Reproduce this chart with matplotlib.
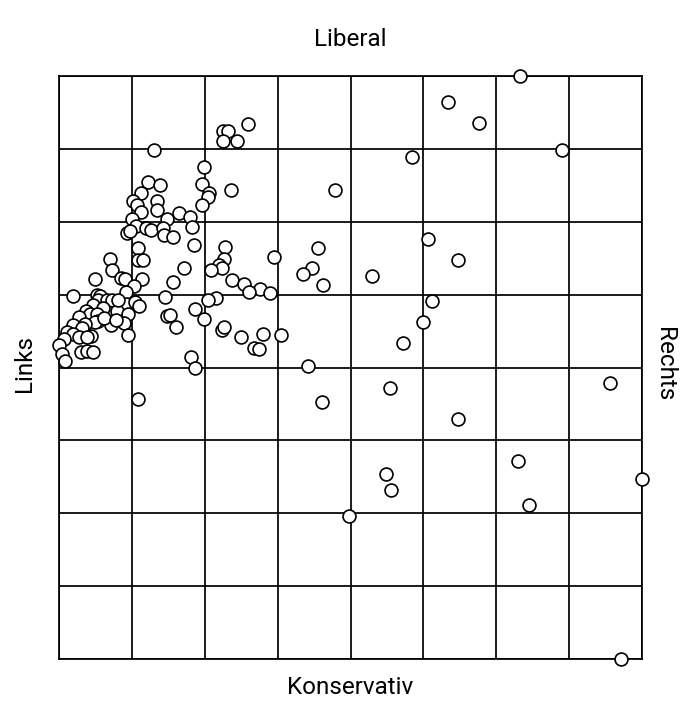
import numpy as np
import matplotlib
matplotlib.use("Agg")
import matplotlib.pyplot as plt

# %% data: position of each point on the compass (grid units, 0..8)
x_pos = [
    6.33, 5.34, 5.76, 6.90, 4.84, 2.59, 2.25, 2.32, 2.25, 2.44, 1.30,
    1.99, 1.96, 2.06, 2.04, 1.96, 2.36, 3.79, 1.22, 1.39, 1.13, 1.02,
    1.35, 1.07, 1.34, 1.12, 1.64, 1.80, 1.48, 1.00, 1.83, 1.06, 0.93,
    0.97, 1.19, 1.26, 1.43, 1.44, 1.56, 5.07,
    1.08, 1.85, 2.28, 3.55, 0.70, 1.09, 1.15, 2.26, 2.95, 5.47, 0.73,
    1.72, 2.19, 2.24, 2.09, 3.47, 3.35, 4.29, 0.49, 0.85, 0.90, 1.14,
    1.57, 2.38, 2.54, 3.62, 1.03, 2.76, 2.61, 2.89, 0.92, 0.19, 1.45,
    2.16, 2.05,
    0.52, 0.56, 0.53, 0.66, 0.73, 0.47, 0.92, 1.04, 1.10, 0.61, 0.80,
    0.94, 0.37, 0.43, 0.52, 0.27, 0.54, 0.49, 0.36, 0.71, 0.89, 0.19,
    0.31, 0.11, 0.19, 0.44, 0.95, 0.07, 0.27, 0.38, 0.00, 0.04, 0.30,
    0.39, 0.46, 0.08, 0.81, 0.62, 0.78,
    1.87, 1.99, 1.48, 1.52, 1.61, 2.23, 2.27, 2.50, 2.80, 2.67, 2.74,
    3.05, 5.12, 5.00, 4.72, 1.81, 1.86, 3.41, 4.54, 3.61, 5.47, 7.56,
    1.09,
    4.49, 4.56, 6.30, 6.45, 8.00, 3.98, 7.71,
]
y_pos = [
    8.00, 7.64, 7.36, 6.98, 6.89, 7.34, 7.25, 7.25, 7.11, 7.11, 6.98,
    6.75, 6.52, 6.39, 6.34, 6.23, 6.43, 6.43, 6.54, 6.51, 6.39, 6.29,
    6.29, 6.23, 6.16, 6.13, 6.12, 6.07, 6.04, 6.04, 5.93, 5.94, 5.85,
    5.87, 5.91, 5.88, 5.91, 5.82, 5.79, 5.76,
    5.64, 5.68, 5.65, 5.64, 5.49, 5.47, 5.47, 5.49, 5.52, 5.48, 5.34,
    5.37, 5.41, 5.37, 5.34, 5.37, 5.28, 5.25, 5.21, 5.23, 5.21, 5.22,
    5.18, 5.20, 5.15, 5.13, 5.12, 5.08, 5.03, 5.02, 5.03, 4.98, 4.97,
    4.96, 4.93,
    4.99, 4.98, 4.93, 4.93, 4.92, 4.86, 4.87, 4.90, 4.84, 4.81, 4.77,
    4.73, 4.77, 4.74, 4.73, 4.69, 4.64, 4.63, 4.60, 4.59, 4.61, 4.58,
    4.54, 4.49, 4.46, 4.43, 4.44, 4.39, 4.42, 4.42, 4.31, 4.19, 4.21,
    4.22, 4.21, 4.09, 4.93, 4.68, 4.65,
    4.80, 4.67, 4.70, 4.72, 4.55, 4.51, 4.55, 4.42, 4.46, 4.27, 4.26,
    4.44, 4.91, 4.63, 4.33, 4.15, 3.99, 4.02, 3.72, 3.52, 3.30, 3.79,
    3.57,
    2.54, 2.32, 2.72, 2.11, 2.47, 1.96, 0.00,
]

label_top = "Liberal"
label_bottom = "Konservativ"
label_left = "Links"
label_right = "Rechts"

# %% plot
plt.rcParams["font.family"] = ["Roboto", "DejaVu Sans"]
fig = plt.figure(figsize=(6.93, 7.2), dpi=100)
ax = fig.add_axes([59 / 693, 61 / 720, 583 / 693, 583 / 720])

ax.scatter(x_pos, y_pos, s=86, facecolor="white", edgecolor="black",
           linewidth=1.2, zorder=3, clip_on=False)

ax.set_xlim(0, 8)
ax.set_ylim(0, 8)
ax.set_xticks(np.arange(0, 9))
ax.set_yticks(np.arange(0, 9))
ax.grid(True, color="black", linewidth=1.25)
ax.tick_params(length=0, labelbottom=False, labelleft=False)
for sp in ax.spines.values():
    sp.set_linewidth(1.25)

fig.text(350 / 693, 1 - 40 / 720, label_top, ha="center", va="center", fontsize=17.5)
fig.text(350 / 693, 1 - 688 / 720, label_bottom, ha="center", va="center", fontsize=17.5)
fig.text(25 / 693, 1 - 364 / 720, label_left, ha="center", va="center", fontsize=17.5, rotation=90)
fig.text(665 / 693, 1 - 364 / 720, label_right, ha="center", va="center", fontsize=17.5, rotation=270)

plt.savefig("out.png", dpi=100)
plt.close()
